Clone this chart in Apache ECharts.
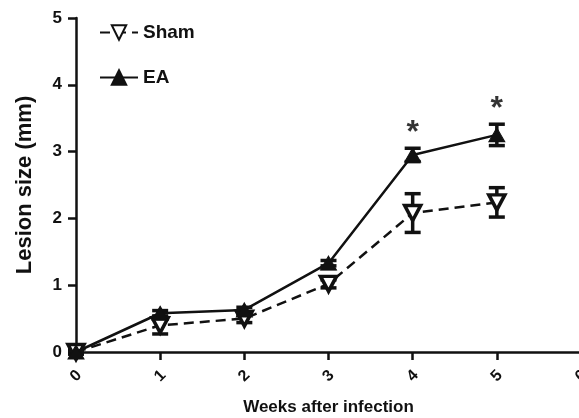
<!DOCTYPE html>
<html><head><meta charset="utf-8">
<script src="https://cdn.jsdelivr.net/npm/echarts@6/dist/echarts.min.js"></script>
<style>html,body{margin:0;padding:0;background:#fff}#c{width:579px;height:418px}</style>
</head><body><div id="c"></div>
<script>
var weeks = [0, 1, 2, 3, 4, 5];
var shamMean = [0, 0.40, 0.50, 1.02, 2.08, 2.24];
var shamErr  = [0.03, 0.13, 0.06, 0.06, 0.29, 0.22];
var eaMean   = [0, 0.58, 0.63, 1.33, 2.95, 3.25];
var eaErr    = [0.03, 0.04, 0.04, 0.04, 0.10, 0.16];
var sigWeeks = [4, 5];
var xTicks = ['0','1','2','3','4','5','6'];

var FONT = 'Liberation Sans, Arial, sans-serif';
function pairs(m){ return weeks.map(function(w,i){ return [w, m[i]]; }); }
function errData(m,e){ return weeks.map(function(w,i){ return [w, m[i]-e[i], m[i]+e[i]]; }); }
function errRender(params, api){
  var x = api.value(0);
  var lo = api.coord([x, api.value(1)]);
  var hi = api.coord([x, api.value(2)]);
  var w = 8;
  var st = {stroke:'#111', lineWidth:3.5};
  return {type:'group', children:[
    {type:'line', shape:{x1:lo[0],y1:lo[1],x2:hi[0],y2:hi[1]}, style:st},
    {type:'line', shape:{x1:lo[0]-w,y1:lo[1],x2:lo[0]+w,y2:lo[1]}, style:st},
    {type:'line', shape:{x1:hi[0]-w,y1:hi[1],x2:hi[0]+w,y2:hi[1]}, style:st}
  ]};
}
var sigData = sigWeeks.map(function(w){ var i = weeks.indexOf(w); return [w, eaMean[i]+eaErr[i]]; });

var chart = echarts.init(document.getElementById('c'));
chart.setOption({
  animation:false,
  grid:{left:76, top:18, bottom:66, right:-2, outerBoundsMode:'none'},
  legend:{
    orient:'vertical', left:94, top:18, itemGap:26, itemWidth:38, itemHeight:18,
    data:['Sham','EA'],
    textStyle:{fontFamily:FONT, fontWeight:'bold', fontSize:19, lineHeight:18, color:'#111'}
  },
  xAxis:{
    type:'value', min:0, max:6, interval:1,
    name:'Weeks after infection', nameLocation:'middle', nameGap:47,
    nameTextStyle:{fontFamily:FONT, fontWeight:'bold', fontSize:17, color:'#111'},
    axisLine:{lineStyle:{color:'#111', width:2.5}},
    axisTick:{show:true, length:8, lineStyle:{color:'#111', width:2.5}},
    axisLabel:{rotate:45, align:'center', verticalAlign:'middle', fontFamily:FONT, fontWeight:'bold', fontSize:16, color:'#111', margin:24,
      formatter:function(v){ return xTicks[Math.round(v)]; }},
    splitLine:{show:false}
  },
  yAxis:{
    type:'value', min:0, max:5, interval:1,
    name:'Lesion size (mm)', nameLocation:'middle', nameGap:40,
    nameTextStyle:{fontFamily:FONT, fontWeight:'bold', fontSize:22, color:'#111'},
    axisLine:{show:true, lineStyle:{color:'#111', width:2.5}},
    axisTick:{show:true, length:8, lineStyle:{color:'#111', width:2.5}},
    axisLabel:{fontFamily:FONT, fontWeight:'bold', fontSize:17, color:'#111', margin:14},
    splitLine:{show:false}
  },
  series:[
    {name:'ShamErr', type:'custom', renderItem:errRender, data:errData(shamMean,shamErr), z:3, silent:true},
    {name:'EAErr', type:'custom', renderItem:errRender, data:errData(eaMean,eaErr), z:3, silent:true},
    {name:'Sham', type:'line', data:pairs(shamMean), symbol:'triangle', symbolRotate:180, symbolSize:[16,15],
      lineStyle:{color:'#111', width:2.5, type:[10,6]},
      itemStyle:{color:'#fff', borderColor:'#111', borderWidth:3.5}, z:4},
    {name:'EA', type:'line', data:pairs(eaMean), symbol:'triangle', symbolSize:[16,14],
      lineStyle:{color:'#111', width:2.5},
      itemStyle:{color:'#111', borderColor:'#111', borderWidth:1}, z:5},
    {name:'sig', type:'scatter', data:sigData, symbol:'circle', symbolSize:2, itemStyle:{color:'rgba(0,0,0,0)'},
      label:{show:true, position:'top', distance:-2, formatter:'*', fontFamily:FONT, fontWeight:'bold', fontSize:32, color:'#000'}, silent:true, z:6}
  ]
});
</script></body></html>
